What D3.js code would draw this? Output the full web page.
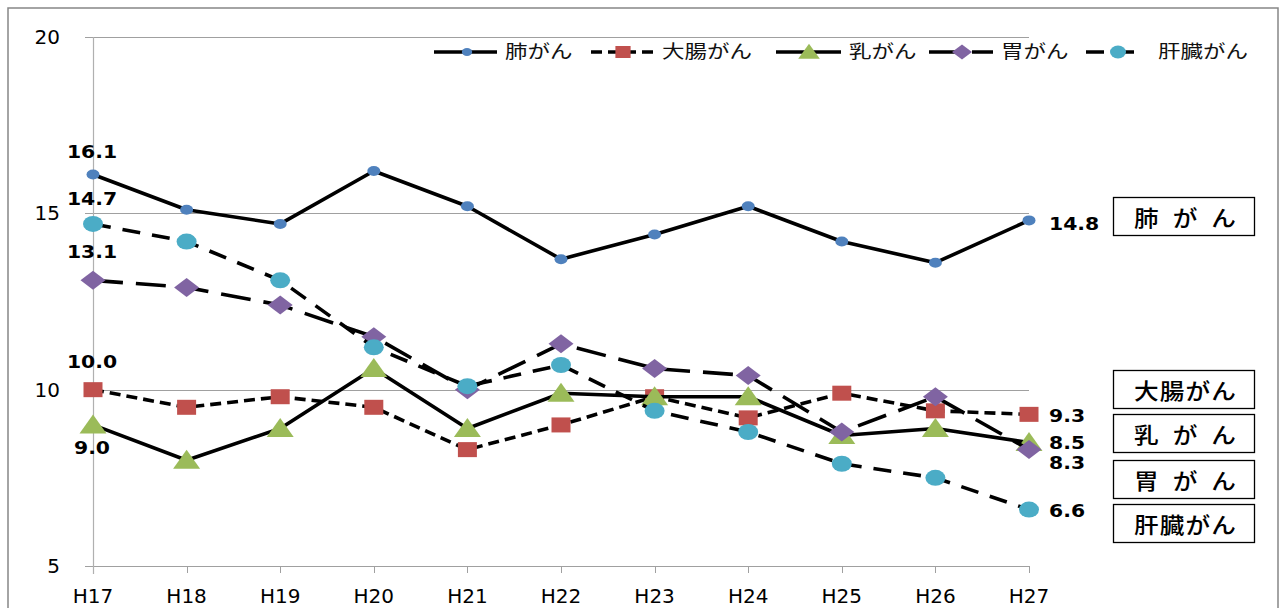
<!DOCTYPE html>
<html><head><meta charset="utf-8">
<script src="https://cdn.jsdelivr.net/npm/d3@7"></script>
<style>
html,body{margin:0;padding:0;background:#fff;}
svg{display:block;}
</style></head>
<body>
<svg id="chart" width="1282" height="608"></svg>
<script>
// ---- data ----
const categories = ["H17","H18","H19","H20","H21","H22","H23","H24","H25","H26","H27"];
const seriesNames = ["肺がん","大腸がん","乳がん","胃がん","肝臓がん"];
const lung       = [16.1,15.1,14.7,16.2,15.2,13.7,14.4,15.2,14.2,13.6,14.8];
const colorectal = [10.0,9.5,9.8,9.5,8.3,9.0,9.8,9.2,9.9,9.4,9.3];
const breast     = [9.0,8.0,8.9,10.6,8.9,9.9,9.8,9.8,8.7,8.9,8.5];
const stomach    = [13.1,12.9,12.4,11.5,10.0,11.3,10.6,10.4,8.8,9.8,8.3];
const liver      = [14.7,14.2,13.1,11.2,10.1,10.7,9.4,8.8,7.9,7.5,6.6];
const yTicks = [5,10,15,20];
const boxLabels = ["肺がん","大腸がん","乳がん","胃がん","肝臓がん"];

// ---- styling / layout ----
const styles = [
  {values: lung,       color:"#4F81BD", dash:null,    marker:"circleS", lblL:-17, lblR:10},
  {values: colorectal, color:"#C0504D", dash:"11,6",  marker:"square",  lblL:-22, lblR:8},
  {values: breast,     color:"#9BBB59", dash:null,    marker:"triangle",lblL:29,  lblR:6},
  {values: stomach,    color:"#8064A2", dash:"30,13", marker:"diamond", lblL:-22, lblR:19},
  {values: liver,      color:"#4BACC6", dash:"18,12", marker:"circleL", lblL:-19, lblR:7}
];

const svg = d3.select("#chart");
const x = d3.scalePoint().domain(categories).range([93,1029]);
const y = d3.scaleLinear().domain([5,20]).range([566,37]);

// outer frame
svg.append("rect").attr("x",8).attr("y",8).attr("width",1270).attr("height",620)
  .attr("fill","none").attr("stroke","#868686").attr("stroke-width",1.5);

// gridlines + y ticks
const gridG = svg.append("g");
gridG.selectAll("line.grid").data(yTicks).join("line")
  .attr("x1",85).attr("x2",x("H27"))
  .attr("y1",d=>Math.round(y(d))+0.5).attr("y2",d=>Math.round(y(d))+0.5)
  .attr("stroke","#a0a0a0").attr("stroke-width",1);
gridG.append("line").attr("x1",x("H17")+0.5).attr("x2",x("H17")+0.5)
  .attr("y1",y(20)).attr("y2",y(5)+8).attr("stroke","#b0b0b0").attr("stroke-width",1.2);
gridG.selectAll("line.xt").data(categories.slice(1)).join("line")
  .attr("x1",d=>Math.round(x(d))+0.5).attr("x2",d=>Math.round(x(d))+0.5)
  .attr("y1",y(5)).attr("y2",y(5)+7).attr("stroke","#a0a0a0");

gridG.selectAll("text.yl").data(yTicks).join("text")
  .attr("x",60).attr("y",d=>y(d)+7).attr("text-anchor","end")
  .attr("font-family","DejaVu Sans, Verdana, sans-serif").attr("font-size",20).attr("fill","#000")
  .text(d=>d);
gridG.selectAll("text.xl").data(categories).join("text")
  .attr("x",d=>x(d)).attr("y",603).attr("text-anchor","middle")
  .attr("font-family","DejaVu Sans, Verdana, sans-serif").attr("font-size",20).attr("fill","#000")
  .text(d=>d);

function drawMarker(g, type, color, cx, cy, scale){
  const s = scale || 1;
  if(type==="circleS"){
    g.append("ellipse").attr("cx",cx).attr("cy",cy).attr("rx",6.5*s).attr("ry",5*s).attr("fill",color);
  } else if(type==="circleL"){
    g.append("ellipse").attr("cx",cx).attr("cy",cy).attr("rx",10*s).attr("ry",8*s).attr("fill",color);
  } else if(type==="square"){
    g.append("rect").attr("x",cx-9.5*s).attr("y",cy-7.5*s).attr("width",19*s).attr("height",15*s).attr("fill",color);
  } else if(type==="triangle"){
    const w=13.5*s, h=19*s;
    g.append("path").attr("d",`M${cx},${cy-h*0.55}L${cx+w},${cy+h*0.45}L${cx-w},${cy+h*0.45}Z`).attr("fill",color);
  } else if(type==="diamond"){
    const w=12.5*s, h=9.5*s;
    g.append("path").attr("d",`M${cx},${cy-h}L${cx+w},${cy}L${cx},${cy+h}L${cx-w},${cy}Z`).attr("fill",color);
  }
}

const line = d3.line().x((d,i)=>x(categories[i])).y(d=>y(d));
const plotG = svg.append("g");
styles.forEach(s=>{
  const g = plotG.append("g");
  g.append("path").attr("d",line(s.values)).attr("fill","none")
    .attr("stroke","#000").attr("stroke-width",3.6)
    .attr("stroke-dasharray",s.dash).attr("stroke-linejoin","round");
  s.values.forEach((v,i)=>drawMarker(g,s.marker,s.color,x(categories[i]),y(v),1));
});

// data labels (first and last)
const lblG = svg.append("g").attr("font-family","DejaVu Sans, Verdana, sans-serif")
  .attr("font-weight","bold").attr("font-size",18.5).attr("fill","#000");
styles.forEach(s=>{
  const v0 = s.values[0], vn = s.values[s.values.length-1];
  lblG.append("g").attr("transform",`translate(${x(categories[0])-1},${y(v0)+s.lblL}) scale(1.1,1)`)
    .append("text").attr("text-anchor","middle").text(v0.toFixed(1));
  lblG.append("g").attr("transform",`translate(${x(categories[categories.length-1])+20},${y(vn)+s.lblR}) scale(1.1,1)`)
    .append("text").attr("text-anchor","start").text(vn.toFixed(1));
});

// legend
const legendX = [434, 591, 776, 929, 1086];
const legendW = [63, 64, 65, 64, 52];
const legendM = [467, 623, 809, 962, 1118];
const legendT = [505, 662, 849, 1001, 1158];
const legG = svg.append("g");
styles.forEach((s,i)=>{
  const g = legG.append("g");
  const x0 = legendX[i], ly = 52;
  g.append("line").attr("x1",x0).attr("x2",x0+legendW[i]).attr("y1",ly).attr("y2",ly)
    .attr("stroke","#000").attr("stroke-width",3.6).attr("stroke-dasharray",s.dash);
  drawMarker(g,s.marker,s.color,legendM[i],ly,0.8);
  g.append("g").attr("transform",`translate(${legendT[i]},58) scale(1.25,1)`)
    .append("text").attr("font-family","Noto Sans CJK JP, sans-serif").attr("font-size",18).attr("fill","#111")
    .text(seriesNames[i]);
});

// right side boxes
const boxTop = [197,370,414,460,504];
const boxG = svg.append("g");
boxLabels.forEach((t,i)=>{
  boxG.append("rect").attr("x",1113.5).attr("y",boxTop[i]+0.5).attr("width",141).attr("height",38)
    .attr("fill","#fff").attr("stroke","#000").attr("stroke-width",1.3);
  boxG.append("g").attr("transform",`translate(1185,${boxTop[i]+29}) scale(1.12,1)`)
    .append("text").attr("text-anchor","middle").attr("font-family","Noto Sans CJK JP, sans-serif")
    .attr("font-size",22).attr("font-weight",500).attr("fill","#000")
    .attr("textLength",91).attr("lengthAdjust","spacing").text(t);
});
</script>
</body></html>
